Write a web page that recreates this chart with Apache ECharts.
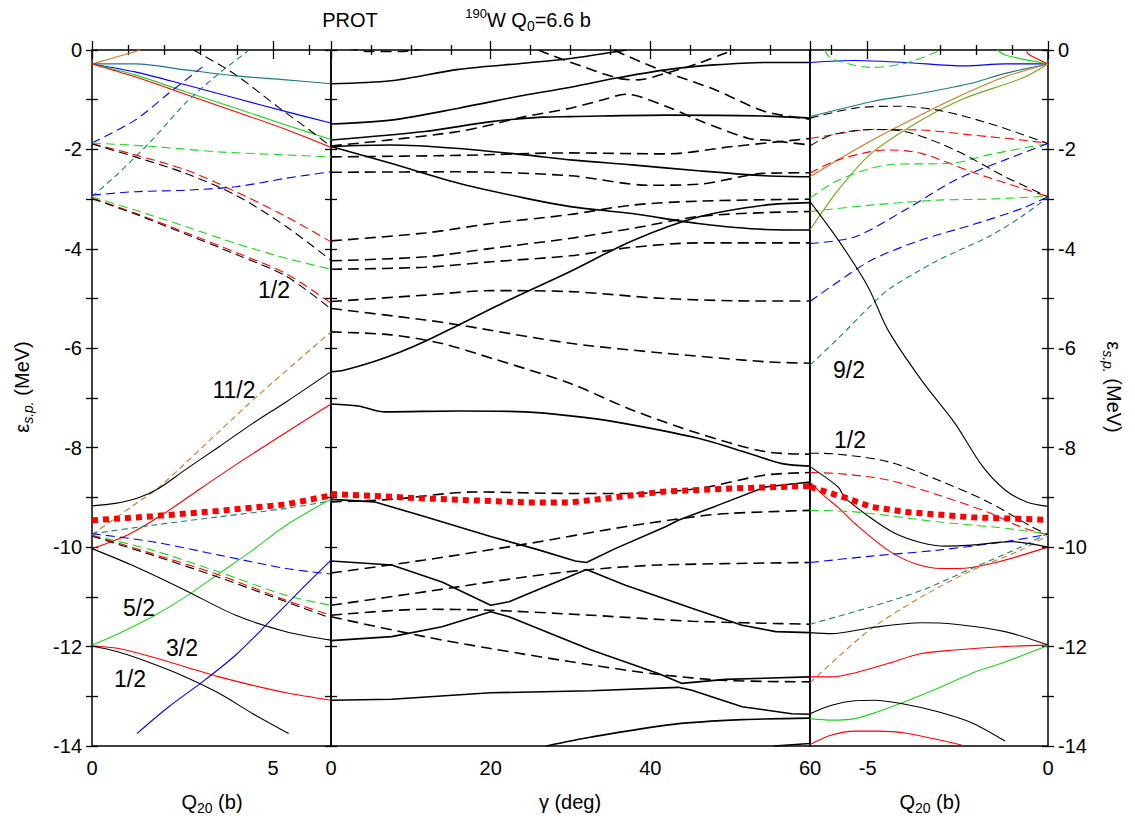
<!DOCTYPE html>
<html><head><meta charset="utf-8">
<script src="https://cdn.jsdelivr.net/npm/echarts@6/dist/echarts.min.js"></script>
<style>html,body{margin:0;padding:0;background:#fff}#c{width:1135px;height:825px}</style>
</head><body><div id="c"></div><script>
// ---------------- DATA ----------------
// Left panel: x = Q20 (b), y = energy (MeV)
const lOrangeS=[[0,-0.28],[1.2,-0.03],[1.4,0.03]];
const lTealS=[[0,-0.28],[1.19,-0.28],[2.58,-0.40],[3.97,-0.52],[5.36,-0.60],[6.6,-0.68]];
const lBlueS=[[0,-0.28],[1.19,-0.44],[2.58,-0.70],[3.97,-0.97],[5.36,-1.24],[6.6,-1.47]];
const lGreenS=[[0,-0.28],[1.19,-0.50],[2.58,-0.84],[3.97,-1.17],[5.36,-1.51],[6.6,-1.80]];
const lRedS=[[0,-0.28],[1.19,-0.54],[2.58,-0.89],[3.97,-1.24],[5.36,-1.60],[6.6,-1.96]];
const lBlackD1=[[2.8,0.0],[3.05,-0.10],[3.97,-0.50],[5.18,-1.17],[5.82,-1.51],[6.6,-1.94]];
const lBlueD1=[[0,-1.87],[1.19,-1.41],[2.12,-0.87],[3.05,-0.34]];
const lTealD1=[[0,-2.95],[0.73,-2.48],[1.66,-1.81],[2.58,-1.07],[3.51,-0.47],[4.25,-0.05],[4.35,0.02]];
const lGreenD1=[[0,-1.87],[1.66,-1.94],[3.51,-2.05],[5.36,-2.11],[6.6,-2.15]];
const lRedD1=[[0,-1.88],[1.19,-2.11],[2.58,-2.41],[3.97,-2.85],[5.36,-3.35],[6.6,-3.86]];
const lBlackD2=[[0,-1.89],[1.19,-2.15],[2.58,-2.48],[3.97,-2.92],[5.36,-3.55],[6.6,-4.23]];
const lBlueD2=[[0,-2.92],[1.19,-2.85],[2.58,-2.82],[3.97,-2.75],[5.36,-2.58],[6.6,-2.45]];
const lGreenD2=[[0,-2.95],[1.19,-3.22],[2.58,-3.55],[3.97,-3.89],[5.36,-4.19],[6.6,-4.41]];
const lRedD2=[[0,-2.98],[1.19,-3.28],[2.58,-3.67],[3.97,-4.07],[5.36,-4.50],[6.6,-5.09]];
const lBlackD3=[[0,-2.99],[1.19,-3.30],[2.58,-3.70],[3.97,-4.11],[5.36,-4.55],[6.6,-5.21]];
const lOrangeD=[[0,-9.75],[1.28,-9.09],[1.83,-8.81],[3.5,-7.68],[4.6,-6.94],[6.6,-5.67]];
const lBlackS1=[[0,-9.17],[0.64,-9.12],[1.3,-9.0],[1.84,-8.82],[2.58,-8.44],[3.51,-7.98],[4.44,-7.51],[5.36,-7.08],[6.6,-6.47]];
const lRedS1=[[0,-10.03],[1.0,-9.75],[2.0,-9.32],[3.0,-8.82],[4.0,-8.33],[5.0,-7.86],[6.6,-7.12]];
const lTealD2=[[0,-9.73],[1.66,-9.56],[3.51,-9.39],[5.36,-9.22],[6.6,-9.07]];
const lGreenS2=[[0,-11.97],[0.73,-11.74],[1.66,-11.40],[2.58,-11.0],[3.51,-10.53],[4.44,-10.06],[5.36,-9.56],[6.6,-9.03]];
const lBlueD3=[[0,-9.73],[1.66,-9.89],[3.51,-10.16],[5.36,-10.43],[6.6,-10.54]];
const lGreenD3=[[0,-9.76],[1.66,-10.06],[3.51,-10.50],[5.36,-10.97],[6.6,-11.17]];
const lRedD3=[[0,-9.76],[1.66,-10.13],[3.51,-10.56],[5.36,-11.07],[6.6,-11.37]];
const lBlackD4=[[0,-9.78],[1.66,-10.16],[3.51,-10.61],[5.36,-11.10],[6.6,-11.43]];
const lBlackS2=[[0,-10.03],[1.19,-10.39],[2.58,-10.87],[3.97,-11.37],[5.36,-11.70],[6.6,-11.87]];
const lRedS2=[[0,-11.99],[0.73,-12.04],[1.66,-12.21],[2.58,-12.41],[3.51,-12.61],[4.44,-12.78],[5.36,-12.93],[6.6,-13.08]];
const lBlackS3=[[0,-11.99],[0.73,-12.11],[1.66,-12.34],[2.58,-12.61],[3.51,-12.94],[4.44,-13.35],[5.43,-13.75]];
const lBlueS2=[[1.24,-13.75],[2.12,-13.21],[3.05,-12.71],[3.97,-12.17],[4.90,-11.50],[5.82,-10.82],[6.6,-10.26]];
const lFermi=[[0,-9.46],[1.66,-9.38],[3.51,-9.27],[5.36,-9.14],[6.6,-8.96]];

// Middle panel: x = gamma (deg)
const mD0=[[2,0.05],[4.6,-0.03],[9,-0.03],[12,0.05]];
const mS1=[[0,-0.68],[7.5,-0.62],[16,-0.39],[24.5,-0.26],[30,-0.17],[35,-0.05],[37,0.0]];
const mS2=[[0,-1.49],[7.5,-1.41],[16,-1.17],[24.5,-0.90],[29.3,-0.77],[35.6,-0.57],[41.9,-0.40],[48,-0.30],[54.3,-0.25],[60,-0.25]];
const mS3=[[0,-1.81],[11.7,-1.64],[20.1,-1.44],[26.4,-1.35],[30,-1.34],[42.1,-1.31],[54.6,-1.33],[60,-1.37]];
const mS4=[[0,-1.94],[7.5,-1.91],[16,-1.98],[24.3,-2.11],[30,-2.21],[37.7,-2.31],[46,-2.43],[54.4,-2.53],[60,-2.55]];
const mS5=[[0,-1.94],[7.5,-2.28],[16,-2.68],[24.3,-2.98],[30,-3.15],[37.7,-3.29],[46,-3.49],[54.4,-3.61],[60,-3.62]];
const mD1=[[35.5,0.0],[36.8,-0.10],[41.9,-0.44],[48.1,-0.80],[54.4,-1.24],[60,-1.39]];
const mD2=[[26,0.0],[27.2,-0.08],[29.9,-0.24],[36,-0.57],[38.5,-0.60],[41.9,-0.47],[46,-0.27],[49.6,-0.05],[50.5,0.0]];
const mD3=[[0,-2.15],[16,-2.12],[30,-2.07],[42,-2.09],[50.4,-1.94],[60,-1.78]];
const mD4=[[0,-1.93],[16,-1.64],[24.3,-1.34],[30,-1.17],[34.1,-1.0],[36.9,-0.89],[42.1,-1.14],[46,-1.41],[52.3,-1.78],[54.4,-1.81],[60,-1.91]];
const mD5=[[0,-2.46],[16,-2.45],[30,-2.53],[39.8,-2.72],[46,-2.70],[54.4,-2.48],[60,-2.47]];
const mD6=[[0,-3.84],[11.8,-3.68],[20.1,-3.49],[29.9,-3.31],[37.7,-3.12],[46,-3.04],[60,-3.00]];
const mD7=[[0,-4.24],[11.8,-4.16],[20.1,-3.99],[29.9,-3.79],[37.7,-3.59],[46,-3.35],[54.4,-3.27],[60,-3.25]];
const mD8=[[0,-4.41],[11.8,-4.37],[20.1,-4.26],[29.9,-4.14],[37.7,-3.97],[46,-3.88],[60,-3.88]];
const mD9=[[0,-5.06],[11.8,-4.93],[20.1,-4.84],[30,-4.86],[41.9,-5.0],[54.4,-5.05],[60,-5.05]];
const mD10=[[0,-5.2],[11.8,-5.43],[16,-5.53],[30,-5.90],[41.9,-6.10],[54.4,-6.27],[60,-6.30]];
const mD11=[[0,-5.67],[7.5,-5.73],[13.8,-5.90],[20.1,-6.20],[30,-6.71],[37.7,-7.24],[46,-7.71],[54.4,-8.08],[60,-8.13]];
const mS6=[[0,-6.47],[1.6,-6.44],[5.5,-6.26],[8.6,-6.08],[11.8,-5.86],[16,-5.53],[22.3,-5.03],[29.9,-4.46],[37.7,-3.84],[46,-3.36],[54.4,-3.12],[60,-3.07]];
const mS7=[[0,-7.12],[3.4,-7.16],[6.8,-7.28],[16,-7.26],[24.3,-7.28],[30,-7.36],[35.6,-7.48],[46,-7.81],[52.3,-8.11],[56.5,-8.32],[60,-8.37]];
const mD12=[[0,-9.09],[7.5,-9.04],[18,-8.89],[30,-8.92],[37.7,-8.92],[46,-8.82],[54.4,-8.55],[60,-8.50]];
const mS8=[[0,-9.04],[5.5,-9.09],[11.8,-9.39],[20.1,-9.79],[25.9,-10.05],[30.6,-10.28],[32,-10.31],[35.6,-10.03],[41.9,-9.59],[43.5,-9.46],[48.1,-9.18],[54.4,-8.79],[60,-8.69]];
const mD13=[[0,-10.52],[11.7,-10.26],[24.3,-9.94],[36.8,-9.59],[46,-9.38],[50,-9.32],[60,-9.26]];
const mS9=[[0,-10.28],[7.6,-10.36],[13.9,-10.70],[20,-11.17],[22.3,-11.10],[32,-10.45],[36.8,-10.76],[45.2,-11.23],[51.5,-11.57],[55.7,-11.70],[60,-11.72]];
const mD14=[[0,-11.17],[11.7,-10.90],[24.3,-10.60],[31.8,-10.46],[41,-10.36],[60,-10.31]];
const mD15=[[0,-11.37],[11.7,-11.25],[20,-11.27],[32.6,-11.37],[45.2,-11.49],[60,-11.55]];
const mS10=[[0,-11.88],[7.6,-11.80],[13.9,-11.60],[20,-11.30],[22.3,-11.40],[32.6,-12.07],[41,-12.54],[43.9,-12.74],[49.4,-12.66],[60,-12.61]];
const mD16=[[0,-11.40],[11.7,-11.80],[20,-12.04],[32.6,-12.37],[41,-12.56],[49.4,-12.68],[60,-12.71]];
const mS11=[[0,-13.08],[7.6,-13.06],[20,-12.93],[32.6,-12.89],[43.5,-12.82],[45.2,-12.88],[51.5,-13.21],[57.7,-13.35],[60,-13.36]];
const mS12=[[27,-14.0],[32.6,-13.82],[43.1,-13.56],[51.5,-13.47],[60,-13.44]];
const mS13=[[55.5,-14.0],[60,-13.95]];
const mFermi=[[0,-8.93],[11.7,-9.02],[24.3,-9.10],[30,-9.10],[41.9,-8.88],[50,-8.82],[60,-8.77]];

// Right panel: x = Q20 (b), negative
const rBlueS=[[-6.6,-0.25],[-5.36,-0.21],[-3.97,-0.25],[-2.31,-0.32],[-1.19,-0.28],[0,-0.28]];
const rGreenD0=[[-6.2,0.0],[-6.01,-0.17],[-4.90,-0.35],[-3.97,-0.27],[-3.05,-0.03],[-2.95,0.0]];
const rGreenS0=[[-1.4,0.0],[-1.19,-0.10],[0,-0.28]];
const rRedS0=[[-0.6,0.0],[-0.55,-0.08],[0,-0.28]];
const rTealS=[[-6.6,-1.34],[-4.9,-1.04],[-3.51,-0.87],[-2.12,-0.67],[-1.19,-0.47],[0,-0.28]];
const rOrangeS=[[-6.6,-2.55],[-5.36,-2.01],[-3.97,-1.47],[-2.58,-0.97],[-1.19,-0.54],[0,-0.28]];
const rOliveS=[[-6.6,-3.62],[-5.82,-2.82],[-4.90,-2.08],[-3.51,-1.41],[-2.31,-0.97],[-0.73,-0.57],[0,-0.28]];
const rBlackD1=[[-6.6,-1.37],[-5.36,-1.17],[-4.25,-1.13],[-3.05,-1.21],[-1.66,-1.47],[0,-1.88]];
const rBlackD2=[[-6.6,-1.93],[-6.01,-1.71],[-4.9,-1.60],[-3.97,-1.64],[-2.58,-2.01],[-1.19,-2.55],[0,-2.95]];
const rRedD1=[[-6.6,-1.78],[-6.01,-1.71],[-4.9,-1.60],[-3.51,-1.61],[-2.12,-1.71],[-0.73,-1.81],[0,-1.88]];
const rRedD2=[[-6.6,-2.48],[-5.82,-2.21],[-4.44,-2.01],[-3.51,-2.08],[-2.12,-2.45],[-0.73,-2.78],[0,-2.95]];
const rGreenD1=[[-6.6,-2.98],[-5.82,-2.62],[-4.44,-2.31],[-2.58,-2.27],[-1.66,-2.11],[0,-1.88]];
const rGreenD2=[[-6.6,-3.25],[-4.9,-3.12],[-3.05,-3.02],[-1.66,-3.0],[0,-2.94]];
const rBlueD1=[[-6.6,-3.89],[-5.36,-3.76],[-3.97,-3.22],[-2.58,-2.62],[-1.19,-2.21],[0,-1.88]];
const rBlueD2=[[-6.6,-5.06],[-6.1,-4.80],[-4.9,-4.23],[-3.51,-3.82],[-2.12,-3.52],[-0.73,-3.19],[0,-2.95]];
const rTealD1=[[-6.6,-6.34],[-5.82,-5.80],[-4.9,-5.13],[-4.39,-4.80],[-3.05,-4.23],[-1.66,-3.76],[-0.73,-3.35],[0,-2.96]];
const rBlackS1=[[-6.6,-3.05],[-5.82,-3.82],[-5.0,-4.75],[-4.44,-5.63],[-3.51,-6.64],[-2.58,-7.51],[-1.84,-8.35],[-1.19,-8.85],[-0.59,-9.09],[0,-9.18]];
const rBlackD3=[[-6.6,-8.11],[-5.82,-8.13],[-4.44,-8.28],[-3.05,-8.65],[-1.66,-9.09],[-0.45,-9.59],[0,-9.75]];
const rRedD3=[[-6.6,-8.50],[-5.82,-8.52],[-4.44,-8.65],[-3.05,-8.95],[-1.66,-9.30],[-0.73,-9.60],[0,-9.75]];
const rBlackS2=[[-6.6,-8.38],[-5.82,-8.79],[-5.64,-9.0],[-4.9,-9.42],[-4.25,-9.72],[-3.51,-9.91],[-2.86,-9.98],[-2.12,-9.96],[-1.01,-9.89],[0,-10.0]];
const rRedS1=[[-6.6,-8.69],[-6.19,-8.98],[-5.82,-9.20],[-5.36,-9.52],[-4.44,-10.06],[-3.70,-10.33],[-2.95,-10.43],[-2.49,-10.43],[-1.56,-10.33],[0,-10.0]];
const rGreenD3=[[-6.6,-9.26],[-5.36,-9.29],[-3.05,-9.49],[-1.19,-9.62],[0,-9.74]];
const rBlueD3=[[-6.6,-10.31],[-4.9,-10.18],[-3.05,-10.06],[-1.19,-9.89],[0,-9.74]];
const rTealD2=[[-6.6,-11.55],[-4.9,-11.20],[-3.51,-10.87],[-2.12,-10.43],[-0.73,-9.99],[0,-9.72]];
const rOrangeD=[[-6.6,-12.73],[-5.82,-12.21],[-4.9,-11.64],[-3.51,-11.0],[-2.12,-10.47],[-0.73,-10.05],[0,-9.76]];
const rBlackS3=[[-6.6,-11.72],[-6.0,-11.74],[-4.9,-11.62],[-3.51,-11.52],[-2.58,-11.55],[-1.19,-11.70],[0,-11.97]];
const rRedS2=[[-6.6,-12.61],[-6.0,-12.61],[-5.36,-12.53],[-4.44,-12.34],[-3.51,-12.14],[-2.58,-12.07],[-1.19,-12.0],[0,-11.97]];
const rGreenS1=[[-6.6,-13.45],[-6.0,-13.48],[-5.36,-13.45],[-4.72,-13.31],[-3.97,-13.11],[-3.05,-12.84],[-2.12,-12.54],[-1.19,-12.31],[0,-11.98]];
const rBlackS4=[[-6.6,-13.35],[-6.0,-13.18],[-5.36,-13.09],[-4.8,-13.08],[-3.97,-13.16],[-3.05,-13.31],[-2.12,-13.53],[-1.19,-13.90]];
const rRedS3=[[-6.6,-13.97],[-6.0,-13.78],[-5.36,-13.70],[-4.72,-13.70],[-3.97,-13.74],[-2.40,-13.98]];
const rFermi=[[-6.6,-8.79],[-5.64,-9.0],[-4.9,-9.19],[-3.97,-9.29],[-2.12,-9.40],[0,-9.45]];

// Axis ticks / labels
const leftMajor=[0,5], leftMinor=[1,2,3,4,6];
const midMajor=[0,20,40,60], midMinor=[5,10,15,25,30,35,45,50,55];
const rightMajor=[-5,0], rightMinor=[-6,-4,-3,-2,-1];
const yMin=-14, yMax=0;

// Level lists: [colour key, style key, data]
const leftLevels=[
 ['o','s',lOrangeS],['t','s',lTealS],['b','s',lBlueS],['g','s',lGreenS],['r','s',lRedS],
 ['k','d',lBlackD1],['b','d',lBlueD1],['t','f',lTealD1],['g','d',lGreenD1],['r','d',lRedD1],['k','d',lBlackD2],
 ['b','d',lBlueD2],['g','d',lGreenD2],['r','d',lRedD2],['k','d',lBlackD3],['o','f',lOrangeD],
 ['k','s',lBlackS1],['r','s',lRedS1],['t','f',lTealD2],['g','s',lGreenS2],['b','d',lBlueD3],['g','d',lGreenD3],
 ['r','d',lRedD3],['k','d',lBlackD4],['k','s',lBlackS2],['r','s',lRedS2],['k','s',lBlackS3],['b','s',lBlueS2],
 ['r','p',lFermi]
];
const midLevels=[
 ['k','d',mD0],['k','s',mS1],['k','s',mS2],['k','s',mS3],['k','s',mS4],['k','s',mS5],['k','d',mD1],['k','d',mD2],
 ['k','d',mD3],['k','d',mD4],['k','d',mD5],['k','d',mD6],['k','d',mD7],['k','d',mD8],['k','d',mD9],['k','d',mD10],
 ['k','d',mD11],['k','s',mS6],['k','s',mS7],['k','d',mD12],['k','c',mS8],['k','d',mD13],['k','c',mS9],['k','d',mD14],
 ['k','d',mD15],['k','c',mS10],['k','d',mD16],['k','c',mS11],['k','s',mS12],['k','s',mS13],['r','p',mFermi]
];
const rightLevels=[
 ['b','s',rBlueS],['g','d',rGreenD0],['g','s',rGreenS0],['r','s',rRedS0],['t','s',rTealS],['o','s',rOrangeS],
 ['y','s',rOliveS],['k','d',rBlackD1],['k','d',rBlackD2],['r','d',rRedD1],['r','d',rRedD2],['g','d',rGreenD1],
 ['g','d',rGreenD2],['b','d',rBlueD1],['b','d',rBlueD2],['t','f',rTealD1],['k','s',rBlackS1],['k','d',rBlackD3],
 ['r','d',rRedD3],['k','s',rBlackS2],['r','s',rRedS1],['g','d',rGreenD3],['b','d',rBlueD3],['t','f',rTealD2],
 ['o','f',rOrangeD],['k','s',rBlackS3],['r','s',rRedS2],['g','s',rGreenS1],['k','s',rBlackS4],['r','s',rRedS3],
 ['r','p',rFermi]
];

// ---------------- STYLE / LAYOUT ----------------
const FONT="'Liberation Sans', Arial, Helvetica, sans-serif";
const COLORS={k:'#000000',r:'#ff0000',g:'#22d422',b:'#0000ff',t:'#1c7c7c',o:'#cc7722',y:'#72a818'};
const GRIDS=[{left:92,width:239},{left:331,width:479},{left:810,width:238}];
const TOP=50, HEIGHT=696;

function lineStyleFor(c,st,panel){
  const w = panel===1 ? 1.6 : 1.1;
  if(st==='p') return {color:COLORS.r,width:6,type:[6,5],cap:'butt'};
  if(st==='d') return {color:COLORS[c],width:w,type: panel===1?[11,6]:[9,5]};
  if(st==='f') return {color:COLORS[c],width:w,type:[6,4]};
  return {color:COLORS[c],width:w,type:'solid'};
}
const series=[];
[leftLevels,midLevels,rightLevels].forEach((levels,p)=>{
  levels.forEach(([c,st,data])=>{
    series.push({type:'line',xAxisIndex:p*4,yAxisIndex:p*2,data:data,showSymbol:false,symbol:'none',
      smooth:(st==='c'||st==='p')?false:0.3,clip:true,silent:true,animation:false,
      lineStyle:lineStyleFor(c,st,p),z:st==='p'?5:(c==='k'?3:2)});
  });
});

const tickLS={color:'#000',width:1.3};
const labelStyle={color:'#000',fontSize:20,fontFamily:FONT};
function xAxesFor(g,min,max,major,minor){
  const base={type:'value',gridIndex:g,min:min,max:max,axisLine:{show:false},splitLine:{show:false}};
  return [
    Object.assign({},base,{position:'bottom',axisTick:{inside:true,length:9,customValues:major,lineStyle:tickLS},
      axisLabel:Object.assign({customValues:major,margin:12},labelStyle)}),
    Object.assign({},base,{position:'bottom',axisTick:{inside:true,length:5,customValues:minor,lineStyle:tickLS},axisLabel:{show:false}}),
    Object.assign({},base,{position:'top',axisTick:{inside:true,length:9,customValues:major,lineStyle:tickLS},axisLabel:{show:false}}),
    Object.assign({},base,{position:'top',axisTick:{inside:true,length:5,customValues:minor,lineStyle:tickLS},axisLabel:{show:false}})
  ];
}
function yAxisFor(g,pos,showLabel){
  return {type:'value',gridIndex:g,position:pos,min:yMin,max:yMax,interval:2,
    axisLine:{show:false},splitLine:{show:false},
    axisTick:{inside:true,length:6,lineStyle:tickLS},
    minorTick:{show:true,splitNumber:2,length:6,lineStyle:tickLS},
    axisLabel:Object.assign({show:showLabel,margin:10},labelStyle)};
}
const xAxis=[].concat(xAxesFor(0,0,6.6,leftMajor,leftMinor),xAxesFor(1,0,60,midMajor,midMinor),xAxesFor(2,-6.6,0,rightMajor,rightMinor));
const yAxis=[yAxisFor(0,'left',true),yAxisFor(0,'right',false),yAxisFor(1,'left',false),yAxisFor(1,'right',false),yAxisFor(2,'left',false),yAxisFor(2,'right',true)];
const grid=GRIDS.map(g=>({left:g.left,top:TOP,width:g.width,height:HEIGHT,show:true,borderColor:'#000',borderWidth:1.5,
  backgroundColor:'transparent',containLabel:false,outerBoundsMode:'none'}));

const R={
  n:{fontSize:20,fontFamily:FONT,color:'#000',lineHeight:26,verticalAlign:'middle'},
  s:{fontSize:14,fontFamily:FONT,color:'#000',lineHeight:14,verticalAlign:'bottom'},
  si:{fontSize:14,fontFamily:FONT,color:'#000',lineHeight:14,verticalAlign:'bottom',fontStyle:'italic'},
  u:{fontSize:13,fontFamily:FONT,color:'#000',lineHeight:13,verticalAlign:'top'}
};
function txt(x,y,text,rot,size){
  return {type:'text',x:x,y:y,rotation:rot||0,silent:true,z:10,
    style:{text:text,rich:R,fill:'#000',fontSize:size||20,fontFamily:FONT,align:'center',verticalAlign:'middle',textAlign:'center',textVerticalAlign:'middle'}};
}
const graphic=[
  txt(350,20,'{n|PROT}'),
  txt(528,20,'{u|190}{n|W Q}{s|0}{n|=6.6 b}'),
  txt(212,802,'{n|Q}{s|20}{n| (b)}'),
  txt(570,802,'{n|γ (deg)}'),
  txt(930,802,'{n|Q}{s|20}{n| (b)}'),
  txt(22,387,'{n|ε}{si|s.p.}{n| (MeV)}',Math.PI/2),
  txt(1114,387,'{n|ε}{si|s.p.}{n| (MeV)}',-Math.PI/2),
  txt(274,290,'1/2',0,23), txt(234,390,'11/2',0,23), txt(139,608,'5/2',0,23),
  txt(182,648,'3/2',0,23), txt(130,679,'1/2',0,23), txt(849,370,'9/2',0,23), txt(850,440,'1/2',0,23)
];

const chart=echarts.init(document.getElementById('c'),null,{renderer:'svg',width:1135,height:825});
chart.setOption({animation:false,backgroundColor:'#fff',grid:grid,xAxis:xAxis,yAxis:yAxis,series:series,graphic:graphic});
</script></body></html>
